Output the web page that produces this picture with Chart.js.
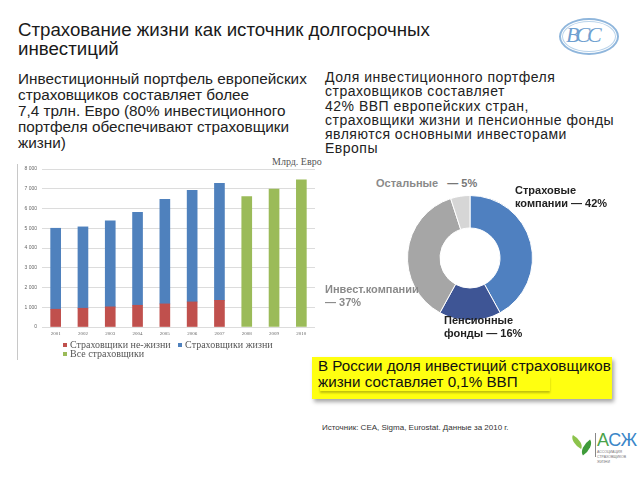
<!DOCTYPE html>
<html>
<head>
<meta charset="utf-8">
<script src="https://cdn.jsdelivr.net/npm/chart.js@4.4.1/dist/chart.umd.min.js"></script>
<style>
  html, body { margin: 0; padding: 0; background: #fff; }
  #page { position: relative; width: 640px; height: 480px; overflow: hidden; font-family: "Liberation Sans", Arial, sans-serif; color: #1e1e1e; }
  .abs { position: absolute; white-space: nowrap; }
  #title { left: 18px; top: 20px; font-size: 18.7px; line-height: 19px; color: #1a1a1a; }
  #leftText { left: 18px; top: 71px; font-size: 15.3px; line-height: 16px; color: #222; }
  #rightText { left: 325px; top: 70px; font-size: 14px; line-height: 14.3px; letter-spacing: 0.5px; color: #222; }
  #barWrap { left: 18px; top: 160px; width: 300px; height: 180px; }
  #pieWrap { left: 407px; top: 195px; width: 126px; height: 126px; }
  .serif { font-family: "Liberation Serif", "Times New Roman", serif; }
  .sq { display: inline-block; width: 4px; height: 4px; margin-right: 3px; vertical-align: middle; position: relative; top: -1px; }
  .pl { font-size: 11px; line-height: 13px; font-weight: bold; }
  #yellow { left: 312px; top: 357px; width: 300px; height: 42px; background: #ffff10; box-shadow: 2px 3px 4px rgba(0,0,0,0.35); }
  #inner { left: 320px; top: 376px; width: 230px; height: 15px; box-shadow: 0 2px 2px rgba(0,0,0,0.25); }
  #yellowText { left: 318px; top: 358px; font-size: 15.2px; line-height: 15.5px; color: #111; }
  #source { left: 322px; top: 423px; font-size: 8px; color: #333; }
</style>
</head>
<body>
<div id="page">
  <div id="title" class="abs">Страхование жизни как источник долгосрочных<br>инвестиций</div>

  <div class="abs" style="left:559px;top:18px;width:60px;height:37px;border:2px solid #8fb6dc;border-radius:50%;box-sizing:border-box;"></div>
  <div class="abs" style="left:562px;top:21px;width:54px;height:31px;border:1px solid #b9d3ea;border-radius:50%;box-sizing:border-box;"></div>
  <div class="abs serif" style="left:566px;top:22px;font-size:22px;font-style:italic;color:#6f9fd0;letter-spacing:-3px;">ВСС</div>

  <div id="leftText" class="abs">Инвестиционный портфель европейских<br>страховщиков составляет более<br>7,4 трлн. Евро (80% инвестиционного<br>портфеля обеспечивают страховщики<br>жизни)</div>

  <div id="rightText" class="abs">Доля инвестиционного портфеля<br>страховщиков составляет<br>42% ВВП европейских стран,<br>страховщики жизни и пенсионные фонды<br>являются основными инвесторами<br>Европы</div>

  <div class="abs" style="left:17px;top:164px;width:1px;height:196px;background:#c8c8c8;"></div>
  <div class="abs serif" style="left:272px;top:156px;font-size:10px;color:#555;">Млрд. Евро</div>
  <div id="barWrap" class="abs"><canvas id="bar" width="300" height="180"></canvas></div>
  <div class="abs serif" style="left:63px;top:340px;font-size:10px;line-height:9px;color:#555;">
    <span class="sq" style="background:#c0504d"></span>Страховщики не-жизни&nbsp;&nbsp;&nbsp;<span class="sq" style="background:#4f81bd"></span>Страховщики жизни<br>
    <span class="sq" style="background:#9bbb59"></span>Все страховщики
  </div>

  <div id="pieWrap" class="abs"><canvas id="pie" width="126" height="126"></canvas></div>
  <div class="abs pl" style="left:376px;top:177px;color:#8a8a8a;">Остальные&nbsp;&nbsp;&nbsp;<span style="color:#777">— 5%</span></div>
  <div class="abs pl" style="left:515px;top:184px;color:#222;">Страховые<br>компании — 42%</div>
  <div class="abs pl" style="left:325px;top:283px;color:#8a8a8a;">Инвест.компании<br>— 37%</div>
  <div class="abs pl" style="left:444px;top:314px;color:#222;">Пенсионные<br>фонды — 16%</div>

  <div id="yellow" class="abs"></div>
  <div id="inner" class="abs"></div>
  <div id="yellowText" class="abs">В России доля инвестиций страховщиков<br>жизни составляет 0,1% ВВП</div>

  <div id="source" class="abs">Источник: CEA, Sigma, Eurostat. Данные за 2010 г.</div>

  <!-- bottom logo -->
  <div class="abs" style="left:570px;top:438px;width:14px;height:8px;background:#8cc34b;border-radius:0 100% 0 100%;transform:rotate(30deg);"></div>
  <div class="abs" style="left:579px;top:443px;width:15px;height:9px;background:#3f9b3a;border-radius:100% 0 100% 0;transform:rotate(-35deg);"></div>
  <div class="abs" style="left:595px;top:433px;width:1px;height:24px;background:#888;"></div>
  <div class="abs" style="left:597px;top:430px;font-size:18px;color:#3a86c8;letter-spacing:-0.5px;"><span style="color:#4aa24a">А</span>СЖ</div>
  <div class="abs" style="left:597px;top:450px;font-size:3.5px;line-height:5px;color:#777;">АССОЦИАЦИЯ<br>СТРАХОВЩИКОВ<br>ЖИЗНИ</div>
</div>

<script>
const years = ['2001','2002','2003','2004','2005','2006','2007','2008','2009','2010'];
const nonLife = [900, 950, 1020, 1100, 1170, 1270, 1350, null, null, null];
const life = [4100, 4120, 4350, 4700, 5300, 5650, 5920, null, null, null];
const allInsurers = [null, null, null, null, null, null, null, 6600, 6980, 7450];
const seriesNames = ['Страховщики не-жизни', 'Страховщики жизни', 'Все страховщики'];
const yTicks = [0, 1000, 2000, 3000, 4000, 5000, 6000, 7000, 8000];

const shareLabels = ['Страховые компании', 'Пенсионные фонды', 'Инвест.компании', 'Остальные'];
const shareValues = [42, 16, 37, 5];

new Chart(document.getElementById('bar'), {
  type: 'bar',
  data: {
    labels: years,
    datasets: [
      { label: seriesNames[0], data: nonLife, backgroundColor: '#c0504d' },
      { label: seriesNames[1], data: life, backgroundColor: '#4f81bd' },
      { label: seriesNames[2], data: allInsurers, backgroundColor: '#9bbb59' }
    ]
  },
  options: {
    responsive: false,
    animation: false,
    layout: { padding: { top: 9, right: 3, left: 0, bottom: 0 } },
    plugins: { legend: { display: false }, tooltip: { enabled: false } },
    datasets: { bar: { barThickness: 10 } },
    scales: {
      x: {
        stacked: true,
        grid: { display: false, drawTicks: false },
        border: { display: false },
        ticks: { font: { size: 5, family: 'Liberation Serif' }, color: '#666', padding: 4, maxRotation: 0 },
        afterFit: s => { s.height = 13; }
      },
      y: {
        stacked: true,
        min: 0, max: 8000,
        afterBuildTicks: s => { s.ticks = yTicks.map(v => ({ value: v })); },
        grid: { color: '#dcdcdc', drawTicks: false },
        border: { display: false },
        ticks: {
          font: { size: 5 }, color: '#666', padding: 5,
          callback: v => v >= 1000 ? (Math.floor(v / 1000) + ' ' + String(v % 1000).padStart(3, '0')) : String(v)
        },
        afterFit: s => { s.width = 24; }
      }
    }
  }
});

new Chart(document.getElementById('pie'), {
  type: 'doughnut',
  data: {
    labels: shareLabels,
    datasets: [{
      data: shareValues,
      backgroundColor: ['#4f80c0', '#3e5595', '#a6a6a6', '#d6d6d6'],
      borderColor: '#ffffff',
      borderWidth: 1
    }]
  },
  options: {
    responsive: false,
    animation: false,
    cutout: '48%',
    layout: { padding: 0 },
    plugins: { legend: { display: false }, tooltip: { enabled: false } }
  }
});
</script>
</body>
</html>
